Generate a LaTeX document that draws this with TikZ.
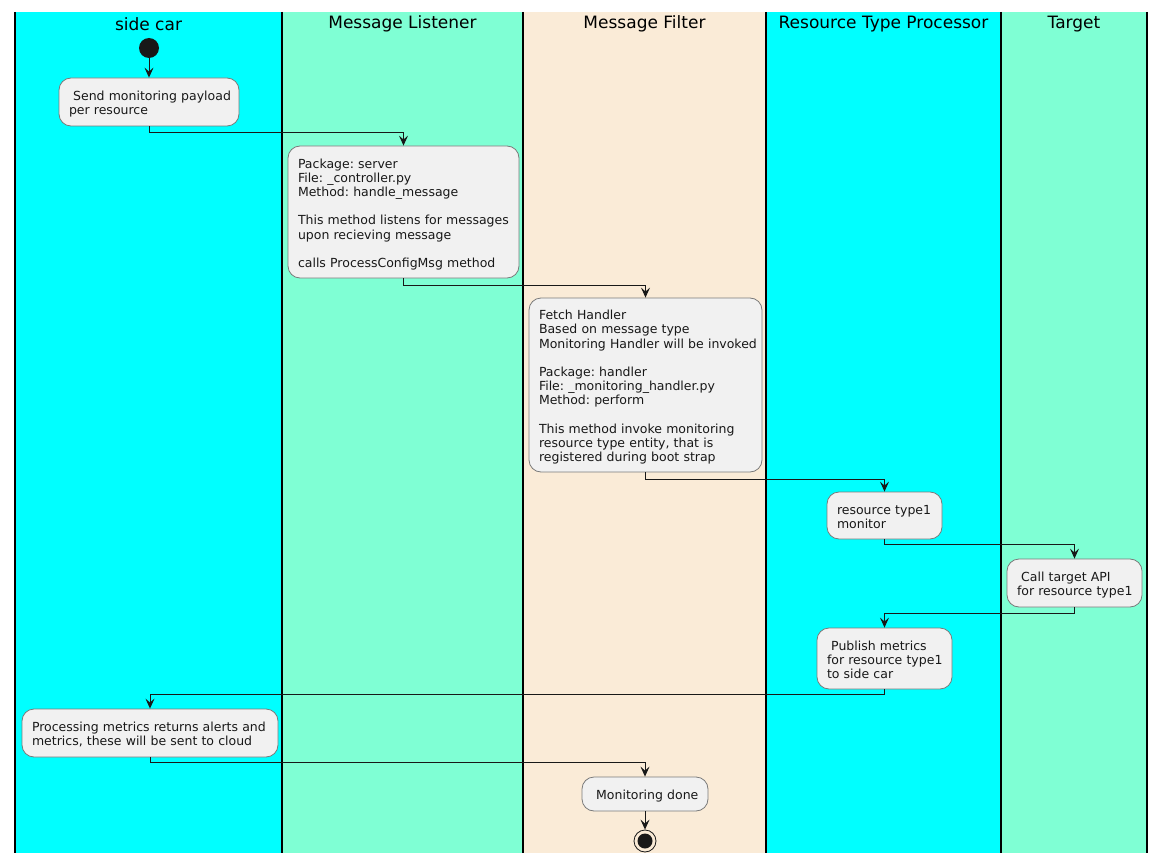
\documentclass[tikz,border=0pt]{standalone}
\usepackage{fontspec}
\setmainfont{DejaVu Sans}
\usetikzlibrary{arrows.meta}
\definecolor{laneA}{HTML}{00FFFF}
\definecolor{laneB}{HTML}{7FFFD4}
\definecolor{laneC}{HTML}{FAEBD7}
\definecolor{boxfill}{HTML}{F1F1F1}
\definecolor{boxline}{HTML}{7A7A7A}
\definecolor{ink}{HTML}{181818}
\newcommand{\oneline}[1]{\mbox{#1}}
\newcommand{\topline}[1]{\mbox{\rule{0pt}{15.5pt}#1}}
\newcommand{\botline}[1]{\mbox{#1\rule[-4pt]{0pt}{4pt}}}
\newcommand{\soleline}[1]{\mbox{\rule[-4pt]{0pt}{19.5pt}#1}}
\tikzset{
  box/.style={draw=boxline, fill=boxfill, line width=0.8pt, rounded corners=12pt,
    inner xsep=10pt, inner ysep=0pt, align=left, text=ink,
    font=\fontsize{12.5pt}{14.2pt}\selectfont,
    execute at begin node=\frenchspacing},
  flow/.style={draw=ink, line width=1pt, -{Stealth[length=10pt,width=9pt,inset=4pt]}},
  lanetitle/.style={font=\fontsize{17pt}{20pt}\selectfont, text=black, anchor=center, inner sep=0pt},
  laneline/.style={draw=black, line width=1.5pt},
}
\begin{document}
\begin{tikzpicture}[x=1pt,y=-1pt]
\useasboundingbox (0,0) rectangle (1165,864);
% lanes
\fill[laneA] (15,12) rectangle (282,853);
\fill[laneB] (282,12) rectangle (523,853);
\fill[laneC] (523,12) rectangle (766,853);
\fill[laneA] (766,12) rectangle (1001,853);
\fill[laneB] (1001,12) rectangle (1147,853);
\foreach \xx in {15,282,523,766,1001,1147} \draw[laneline] (\xx,12) -- (\xx,853);
\node[lanetitle] (t1) at (148.5,24) {side car};
\node[lanetitle] (t2) at (402.5,24) {Message Listener};
\node[lanetitle] (t3) at (644.5,24) {Message Filter};
\node[lanetitle] (t4) at (883.5,24) {Resource Type Processor};
\node[lanetitle] (t5) at (1074,24) {Target};
% start
\node[circle, fill=ink, minimum size=20pt, inner sep=0pt] (start) at (149,48) {};
% boxes
\node[box, text width=160pt, minimum height=48pt] (b1) at (149,102)
  {\topline{\ Send monitoring payload}\\\botline{per resource}};
\node[box, text width=211pt, minimum height=132pt] (b2) at (403.5,212)
  {\topline{Package: server}\\\oneline{File: \_controller.py}\\\oneline{Method: handle\_message}\\\mbox{}\\\oneline{This method listens for messages}\\\oneline{upon recieving message}\\\mbox{}\\\botline{calls ProcessConfigMsg method}};
\node[box, text width=213pt, minimum height=174pt] (b3) at (645.5,385)
  {\topline{Fetch Handler}\\\oneline{Based on message type}\\\oneline{Monitoring Handler will be invoked}\\\mbox{}\\\oneline{Package: handler}\\\oneline{File: \_monitoring\_handler.py}\\\oneline{Method: perform}\\\mbox{}\\\oneline{This method invoke monitoring}\\\oneline{resource type entity, that is}\\\botline{registered during boot strap}};
\node[box, text width=95pt, minimum height=47pt] (b4) at (884.5,515.5)
  {\topline{resource type1}\\\botline{monitor}};
\node[box, text width=115pt, minimum height=48pt] (b5) at (1074.5,583)
  {\topline{\ Call target API}\\\botline{for resource type1}};
\node[box, text width=115pt, minimum height=61pt] (b6) at (884.5,658.5)
  {\topline{\ Publish metrics}\\\oneline{for resource type1}\\\botline{to side car}};
\node[box, text width=236pt, minimum height=48pt] (b7) at (150,733)
  {\topline{Processing metrics returns alerts and}\\\botline{metrics, these will be sent to cloud}};
\node[box, text width=106pt, minimum height=34pt] (b8) at (645,794)
  {\soleline{\ Monitoring done}};
% end
\node[circle, draw=ink, line width=0.8pt, minimum size=22pt, inner sep=0pt] (stop) at (645,841) {};
\node[circle, fill=ink, minimum size=15pt, inner sep=0pt] (stopdot) at (stop.center) {};
% connectors
\draw[flow] (start) -- (b1);
\draw[flow] (b1.south) -- ++(0,6) -| (b2.north);
\draw[flow] (b2.south) -- ++(0,7) -| (b3.north);
\draw[flow] (b3.south) -- ++(0,7) -| (b4.north);
\draw[flow] (b4.south) -- ++(0,5) -| (b5.north);
\draw[flow] (b5.south) -- ++(0,6) -| (b6.north);
\draw[flow] (b6.south) -- ++(0,5) -| (b7.north);
\draw[flow] (b7.south) -- ++(0,5) -| (b8.north);
\draw[flow] (b8) -- (stop);
\end{tikzpicture}
\end{document}
